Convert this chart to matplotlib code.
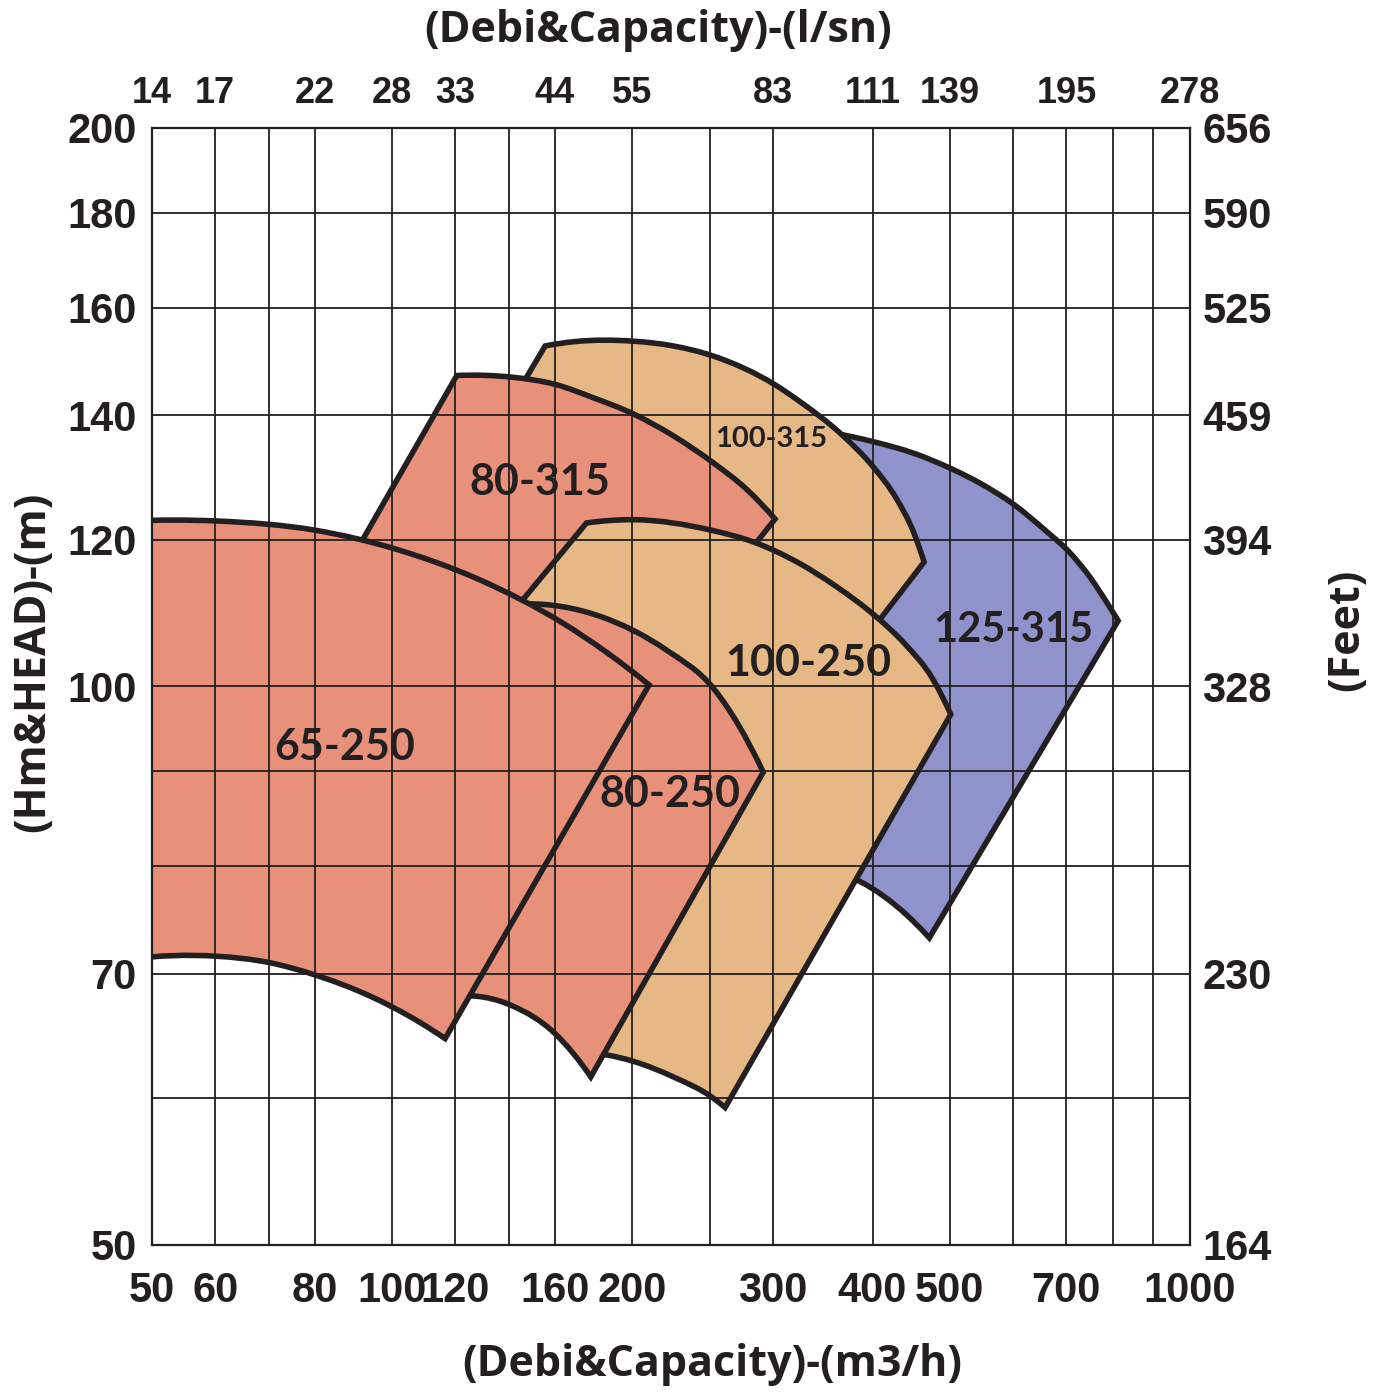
import matplotlib

matplotlib.use("Agg")
import matplotlib.pyplot as plt
import numpy as np
from matplotlib.patches import PathPatch
from matplotlib.path import Path
from matplotlib.ticker import NullLocator

# capacity axis (m3/h) with the l/sn values printed on top
q_ticks = [50, 60, 80, 100, 120, 160, 200, 300, 400, 500, 700, 1000]
q_labels = ["50", "60", "80", "100", "120", "160", "200", "300", "400", "500", "700", "1000"]
lsn_labels = ["14", "17", "22", "28", "33", "44", "55", "83", "111", "139", "195", "278"]
q_grid = [60, 70, 80, 100, 120, 140, 160, 200, 250, 300, 400, 500, 600, 700, 800, 900]

# head axis (m) with feet on the right
h_ticks = [50, 70, 100, 120, 140, 160, 180, 200]
h_labels = ["50", "70", "100", "120", "140", "160", "180", "200"]
feet_labels = ["164", "230", "328", "394", "459", "525", "590", "656"]
h_grid = [60, 70, 80, 90, 100, 120, 140, 160, 180]

# pump ranges: top and bottom curves, left to right,
# plus corners of the left edge (bottom to top) that sit under a neighbour
top_q_125_315 = [324.5, 366, 401, 450, 502.8, 545.6, 600.6, 661.3, 704, 749.6, 786.5, 812.8]
top_h_125_315 = [137.8, 136.7, 135.5, 133.6, 131.0, 128.7, 125.4, 121.2, 118.3, 114.5, 111.0, 108.5]
bot_q_125_315 = [343.8, 385.9, 441.6, 471.3]
bot_h_125_315 = [79.8, 78.5, 75.3, 73.2]

top_q_100_315 = [155.5, 168.7, 201, 225.1, 252.6, 301.3, 324.5, 366, 401, 428.9, 450, 464.2]
top_h_100_315 = [152.6, 153.4, 153.5, 152.6, 150.7, 145.5, 142.4, 136.7, 131.3, 126.2, 121.2, 116.7]
bot_q_100_315 = [140.5, 375]
bot_h_100_315 = [141.8, 103.6]

top_q_80_315 = [120.5, 141.2, 160, 178.7, 201, 225.1, 252.6, 278.3, 301.9]
top_h_80_315 = [147.1, 146.8, 145.5, 143.1, 140.2, 136.5, 132.0, 127.7, 123.1]
bot_q_80_315 = [162.3, 265]
bot_h_80_315 = [108.0, 114.7]
left_q_80_315 = [89.1]
left_h_80_315 = [117.3]

top_q_100_250 = [175.2, 200.4, 251.2, 284.4, 321.8, 360.4, 403.7, 438.5, 476.2, 501.3]
top_h_100_250 = [122.5, 123.0, 121.4, 119.6, 116.7, 113.2, 109.1, 105.5, 100.9, 96.6]
bot_q_100_250 = [172, 185.8, 200.6, 225.1, 252.6, 261.4]
bot_h_100_250 = [63.5, 63.3, 62.8, 61.6, 60.0, 59.3]
left_q_100_250 = [138.9]
left_h_100_250 = [108.6]

top_q_80_250 = [146.8, 182.2, 220.9, 252.6, 291.8]
top_h_80_250 = [110.8, 109.1, 104.6, 99.8, 89.9]
bot_q_80_250 = [121.2, 141.2, 160, 177.4]
bot_h_80_250 = [68.1, 67.3, 65.0, 61.6]

top_q_65_250 = [47, 60.3, 80.1, 101, 127.3, 164.7, 209.9]
top_h_65_250 = [122.8, 122.8, 121.4, 118.6, 114.4, 108.0, 100.2]
bot_q_65_250 = [47, 60.3, 70, 80.1, 93.8, 108.4, 116.5]
bot_h_65_250 = [71.3, 71.55, 71.0, 69.9, 68.1, 65.9, 64.6]

# label anchors (m3/h, m)
label_q = {"125-315": 600, "100-315": 299, "80-315": 153, "100-250": 332, "80-250": 223, "65-250": 87.3}
label_h = {"125-315": 107.3, "100-315": 135.9, "80-315": 128.9, "100-250": 102.9, "80-250": 87.5, "65-250": 92.8}

SALMON = "#E8917A"
TAN = "#E6B886"
BLUE = "#8F92CB"
INK = "#231F20"

# back to front
ranges = [
    ("125-315", BLUE, top_q_125_315, top_h_125_315, bot_q_125_315, bot_h_125_315, [], [], 30),
    ("100-315", TAN, top_q_100_315, top_h_100_315, bot_q_100_315, bot_h_100_315, [], [], 21),
    ("80-315", SALMON, top_q_80_315, top_h_80_315, bot_q_80_315, bot_h_80_315,
     left_q_80_315, left_h_80_315, 31),
    ("100-250", TAN, top_q_100_250, top_h_100_250, bot_q_100_250, bot_h_100_250,
     left_q_100_250, left_h_100_250, 31),
    ("80-250", SALMON, top_q_80_250, top_h_80_250, bot_q_80_250, bot_h_80_250, [], [], 31),
    ("65-250", SALMON, top_q_65_250, top_h_65_250, bot_q_65_250, bot_h_65_250, [], [], 31),
]

LABEL_FONT = ["Lato", "DejaVu Sans"]
TITLE_FONT = ["Open Sans", "DejaVu Sans"]
TICK_FONT = ["Liberation Sans", "DejaVu Sans"]


def curve_through(qs, hs):
    """Cubic Bezier pieces through the read points, worked out in log space."""
    x = np.log10(qs)
    y = np.log10(hs)
    h = np.diff(x)
    d = np.diff(y) / h
    m = np.empty(len(x))
    if len(x) == 2:
        m[:] = d[0]
    else:
        m[1:-1] = (d[:-1] * h[1:] + d[1:] * h[:-1]) / (h[:-1] + h[1:])
        m[0] = 2 * d[0] - m[1]
        m[-1] = 2 * d[-1] - m[-2]
    verts = []
    for i in range(len(x) - 1):
        verts += [(x[i] + h[i] / 3, y[i] + m[i] * h[i] / 3),
                  (x[i + 1] - h[i] / 3, y[i + 1] - m[i + 1] * h[i] / 3),
                  (x[i + 1], y[i + 1])]
    verts = 10 ** np.array(verts)
    return verts.tolist(), [Path.CURVE4] * len(verts)


def range_path(tq, th, bq, bh, lq, lh):
    verts = [(tq[0], th[0])]
    codes = [Path.MOVETO]
    v, c = curve_through(tq, th)
    verts += v
    codes += c
    verts.append((bq[-1], bh[-1]))
    codes.append(Path.LINETO)
    if len(bq) > 2:
        v, c = curve_through(bq[::-1], bh[::-1])
    else:
        v, c = [(bq[0], bh[0])], [Path.LINETO]
    verts += v
    codes += c
    for q, h in zip(lq, lh):
        verts.append((q, h))
        codes.append(Path.LINETO)
    verts.append((tq[0], th[0]))
    codes.append(Path.CLOSEPOLY)
    return Path(verts, codes)


fig = plt.figure(figsize=(13.84, 13.93), dpi=100)
ax = fig.add_axes([152 / 1384, 1 - 1245 / 1393, 1038 / 1384, 1117 / 1393])
ax.set_xscale("log")
ax.set_yscale("log")
ax.set_xlim(50, 1000)
ax.set_ylim(50, 200)

for z, (name, colour, tq, th, bq, bh, lq, lh, size) in enumerate(ranges):
    ax.add_patch(PathPatch(range_path(tq, th, bq, bh, lq, lh), facecolor=colour,
                           edgecolor=INK, linewidth=4, joinstyle="miter", zorder=2 + z))
    ax.text(label_q[name], label_h[name], name, ha="center", va="center",
            fontsize=size, fontweight="bold", family=LABEL_FONT, color=INK, zorder=20)

for q in q_grid:
    ax.axvline(q, color=INK, linewidth=1.3, zorder=12)
for h in h_grid:
    ax.axhline(h, color=INK, linewidth=1.3, zorder=12)

for spine in ax.spines.values():
    spine.set_linewidth(1.6)
    spine.set_color(INK)
    spine.set_zorder(15)

ax.xaxis.set_minor_locator(NullLocator())
ax.yaxis.set_minor_locator(NullLocator())
ax.set_xticks(q_ticks, q_labels)
ax.set_yticks(h_ticks, h_labels)
ax.tick_params(axis="x", length=0, pad=19)
ax.tick_params(axis="y", length=0, pad=11)
for lab in ax.get_xticklabels() + ax.get_yticklabels():
    lab.set_family(TICK_FONT)
    lab.set_fontweight("bold")
    lab.set_fontsize(30)
    lab.set_color(INK)

top = ax.twiny()
top.set_xscale("log")
top.set_xlim(ax.get_xlim())
top.xaxis.set_minor_locator(NullLocator())
top.set_xticks(q_ticks, lsn_labels)
top.tick_params(axis="x", length=0, pad=12)
for lab in top.get_xticklabels():
    lab.set_family(TICK_FONT)
    lab.set_fontweight("bold")
    lab.set_fontsize(26)
    lab.set_color(INK)

right = ax.twinx()
right.set_yscale("log")
right.set_ylim(ax.get_ylim())
right.yaxis.set_minor_locator(NullLocator())
right.set_yticks(h_ticks, feet_labels)
right.tick_params(axis="y", length=0, pad=9)
for lab in right.get_yticklabels():
    lab.set_family(TICK_FONT)
    lab.set_fontweight("bold")
    lab.set_fontsize(30)
    lab.set_color(INK)
for a in (top, right):
    for spine in a.spines.values():
        spine.set_visible(False)

title_kw = dict(fontsize=31, fontweight="bold", family=TITLE_FONT, color=INK, ha="center", va="center")
fig.text(658 / 1384, 1 - 30 / 1393, "(Debi&Capacity)-(l/sn)", **title_kw)
fig.text(712 / 1384, 1 - 1365 / 1393, "(Debi&Capacity)-(m3/h)", **title_kw)
fig.text(33 / 1384, 1 - 662 / 1393, "(Hm&HEAD)-(m)", rotation=90, **title_kw)
fig.text(1347 / 1384, 1 - 630 / 1393, "(Feet)", rotation=90, **title_kw)

fig.savefig("out.png", dpi=100, facecolor="white")
